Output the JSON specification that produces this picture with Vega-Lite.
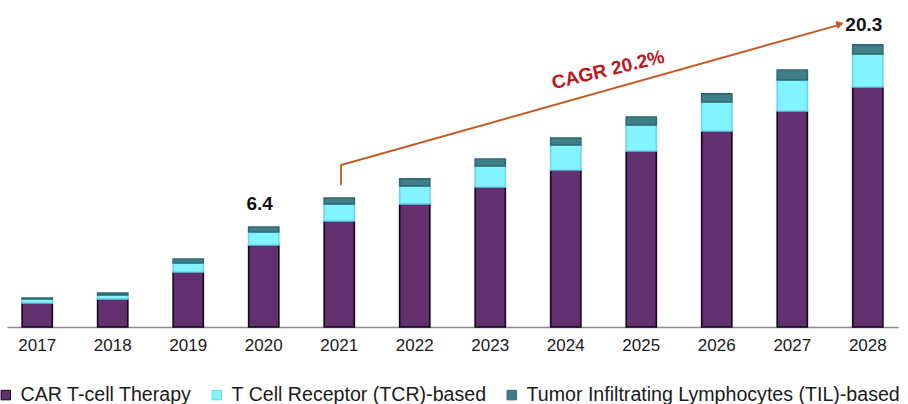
{
  "$schema": "https://vega.github.io/schema/vega-lite/v6.json",
  "autosize": {"type": "none"},
  "padding": {"left": 7, "top": 0, "right": 10, "bottom": 77},
  "width": 891,
  "height": 327,
  "background": "white",
  "config": {"view": {"stroke": null}, "font": "Liberation Sans"},
  "datasets": {
    "bars": [
      {"year": "2017", "series": "CAR T-cell Therapy", "value": 1.73},
      {"year": "2017", "series": "T Cell Receptor (TCR)-based", "value": 0.29},
      {"year": "2017", "series": "Tumor Infiltrating Lymphocytes (TIL)-based", "value": 0.07},
      {"year": "2018", "series": "CAR T-cell Therapy", "value": 2.02},
      {"year": "2018", "series": "T Cell Receptor (TCR)-based", "value": 0.29},
      {"year": "2018", "series": "Tumor Infiltrating Lymphocytes (TIL)-based", "value": 0.14},
      {"year": "2019", "series": "CAR T-cell Therapy", "value": 3.96},
      {"year": "2019", "series": "T Cell Receptor (TCR)-based", "value": 0.65},
      {"year": "2019", "series": "Tumor Infiltrating Lymphocytes (TIL)-based", "value": 0.29},
      {"year": "2020", "series": "CAR T-cell Therapy", "value": 5.9},
      {"year": "2020", "series": "T Cell Receptor (TCR)-based", "value": 0.94},
      {"year": "2020", "series": "Tumor Infiltrating Lymphocytes (TIL)-based", "value": 0.36},
      {"year": "2021", "series": "CAR T-cell Therapy", "value": 7.63},
      {"year": "2021", "series": "T Cell Receptor (TCR)-based", "value": 1.22},
      {"year": "2021", "series": "Tumor Infiltrating Lymphocytes (TIL)-based", "value": 0.43},
      {"year": "2022", "series": "CAR T-cell Therapy", "value": 8.86},
      {"year": "2022", "series": "T Cell Receptor (TCR)-based", "value": 1.3},
      {"year": "2022", "series": "Tumor Infiltrating Lymphocytes (TIL)-based", "value": 0.5},
      {"year": "2023", "series": "CAR T-cell Therapy", "value": 10.08},
      {"year": "2023", "series": "T Cell Receptor (TCR)-based", "value": 1.51},
      {"year": "2023", "series": "Tumor Infiltrating Lymphocytes (TIL)-based", "value": 0.5},
      {"year": "2024", "series": "CAR T-cell Therapy", "value": 11.3},
      {"year": "2024", "series": "T Cell Receptor (TCR)-based", "value": 1.8},
      {"year": "2024", "series": "Tumor Infiltrating Lymphocytes (TIL)-based", "value": 0.5},
      {"year": "2025", "series": "CAR T-cell Therapy", "value": 12.67},
      {"year": "2025", "series": "T Cell Receptor (TCR)-based", "value": 1.87},
      {"year": "2025", "series": "Tumor Infiltrating Lymphocytes (TIL)-based", "value": 0.58},
      {"year": "2026", "series": "CAR T-cell Therapy", "value": 14.11},
      {"year": "2026", "series": "T Cell Receptor (TCR)-based", "value": 2.09},
      {"year": "2026", "series": "Tumor Infiltrating Lymphocytes (TIL)-based", "value": 0.58},
      {"year": "2027", "series": "CAR T-cell Therapy", "value": 15.55},
      {"year": "2027", "series": "T Cell Receptor (TCR)-based", "value": 2.23},
      {"year": "2027", "series": "Tumor Infiltrating Lymphocytes (TIL)-based", "value": 0.72},
      {"year": "2028", "series": "CAR T-cell Therapy", "value": 17.28},
      {"year": "2028", "series": "T Cell Receptor (TCR)-based", "value": 2.38},
      {"year": "2028", "series": "Tumor Infiltrating Lymphocytes (TIL)-based", "value": 0.65}
    ],
    "labels": [
      {"year": "2020", "value": 8.82, "label": "6.4"},
      {"year": "2028", "value": 21.74, "label": "20.3"}
    ],
    "arrow": [
      {"x": 2021.024, "y": 10.22, "o": 1},
      {"x": 2021.024, "y": 11.66, "o": 2},
      {"x": 2027.6, "y": 21.72, "o": 3}
    ],
    "head": [{"x": 2027.633, "y": 21.81}],
    "cagr": [{"x": 2024.56, "y": 18.5, "label": "CAGR 20.2%"}]
  },
  "resolve": {"scale": {"x": "independent"}, "axis": {"x": "independent"}},
  "layer": [
    {
      "layer": [
        {
          "data": {"name": "bars"},
          "mark": {"type": "bar", "strokeWidth": 1.6},
          "encoding": {
            "x": {
              "field": "year", "type": "nominal",
              "scale": {"paddingInner": 0.6, "paddingOuter": 0.2},
              "axis": {"title": null, "labelAngle": 0, "labelFontSize": 17, "labelColor": "#1a1a1a", "ticks": false, "domainColor": "#8c8c8c", "domainWidth": 1.5, "labelPadding": 10}
            },
            "y": {
              "field": "value", "type": "quantitative", "aggregate": "sum",
              "stack": "zero",
              "scale": {"domain": [0, 23.54], "nice": false, "zero": true},
              "axis": null
            },
            "color": {
              "field": "series", "type": "nominal",
              "scale": {
                "domain": ["CAR T-cell Therapy", "T Cell Receptor (TCR)-based", "Tumor Infiltrating Lymphocytes (TIL)-based"],
                "range": ["#62306e", "#82f4ff", "#3e7f88"]
              },
              "legend": {
                "title": null, "orient": "none", "legendX": -11, "legendY": 385,
                "direction": "horizontal", "symbolType": "square", "symbolSize": 90,
                "symbolStrokeColor": "#1a1a2a", "symbolStrokeWidth": 1,
                "labelFontSize": 19.6, "labelColor": "#1a1a1a", "columnPadding": 15, "labelOffset": 5,
                "labelLimit": 600
              }
            },
            "stroke": {
              "field": "series", "type": "nominal",
              "scale": {
                "domain": ["CAR T-cell Therapy", "T Cell Receptor (TCR)-based", "Tumor Infiltrating Lymphocytes (TIL)-based"],
                "range": ["#14061c", "#6cd4f2", "#2f6a72"]
              },
              "legend": null
            },
            "order": {"field": "series", "type": "nominal"}
          }
        },
        {
          "data": {"name": "labels"},
          "mark": {"type": "text", "fontSize": 19, "fontWeight": "bold", "color": "#111111", "dx": -4},
          "encoding": {
            "x": {"field": "year", "type": "nominal"},
            "y": {"field": "value", "type": "quantitative"},
            "text": {"field": "label"}
          }
        }
      ]
    },
    {
      "layer": [
        {
          "data": {"name": "arrow"},
          "mark": {"type": "line", "color": "#c4581f", "strokeWidth": 1.8},
          "encoding": {
            "x": {"field": "x", "type": "quantitative", "scale": {"domain": [2016.6, 2028.401], "nice": false, "zero": false}, "axis": null},
            "y": {"field": "y", "type": "quantitative"},
            "order": {"field": "o"}
          }
        },
        {
          "data": {"name": "head"},
          "mark": {"type": "point", "shape": "triangle-right", "filled": true, "color": "#c4581f", "size": 70, "angle": -15.8, "opacity": 1},
          "encoding": {
            "x": {"field": "x", "type": "quantitative"},
            "y": {"field": "y", "type": "quantitative"}
          }
        },
        {
          "data": {"name": "cagr"},
          "mark": {"type": "text", "fontSize": 19, "fontWeight": "bold", "color": "#c0131c", "angle": -13.5},
          "encoding": {
            "x": {"field": "x", "type": "quantitative"},
            "y": {"field": "y", "type": "quantitative"},
            "text": {"field": "label"}
          }
        }
      ]
    }
  ]
}
